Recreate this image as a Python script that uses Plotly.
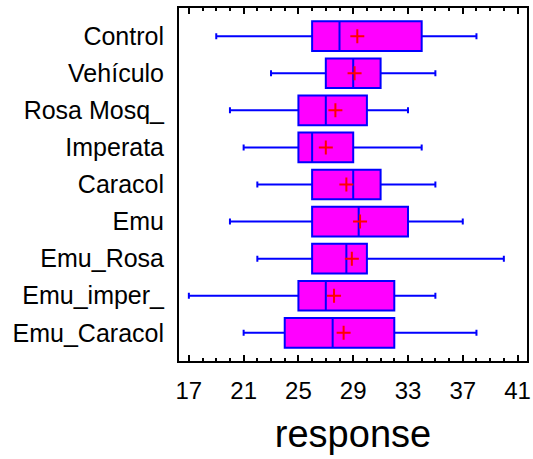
import plotly.graph_objects as go

categories = ["Control", "Vehículo", "Rosa Mosq_", "Imperata", "Caracol",
              "Emu", "Emu_Rosa", "Emu_imper_", "Emu_Caracol"]
lower_whisker = [19, 23, 20, 21, 22, 20, 22, 17, 21]
q1_values = [26, 27, 25, 25, 26, 26, 26, 25, 24]
median_values = [28, 29, 27, 26, 29, 29.4, 28.5, 27, 27.5]
q3_values = [34, 31, 30, 29, 31, 33, 30, 32, 32]
upper_whisker = [38, 35, 33, 34, 35, 37, 40, 35, 38]
mean_values = [29.3, 29.1, 27.7, 27.0, 28.5, 29.5, 28.9, 27.6, 28.3]
x_ticks = [17, 21, 25, 29, 33, 37, 41]

FONT = "Liberation Sans, Arial, sans-serif"
X_RANGE = [16.28, 41.69]

fig = go.Figure()
fig.add_trace(go.Box(
    y=categories,
    q1=q1_values, median=median_values, q3=q3_values,
    lowerfence=lower_whisker, upperfence=upper_whisker,
    orientation="h",
    fillcolor="#FF00FF",
    line=dict(color="#0000FF", width=2),
    width=0.8,
    whiskerwidth=0.2,
    boxpoints=False,
    hoverinfo="skip",
    showlegend=False,
))
fig.add_trace(go.Scatter(
    x=mean_values, y=categories, mode="markers",
    marker=dict(symbol="cross-thin", size=10, line=dict(color="#FF0000", width=2)),
    showlegend=False, hoverinfo="skip",
))
# invisible trace on the top axis so its ticks render
fig.add_trace(go.Scatter(
    x=[X_RANGE[0]], y=[categories[0]], xaxis="x2", mode="markers",
    marker=dict(opacity=0), showlegend=False, hoverinfo="skip",
))

n = len(categories)
tick_common = dict(
    range=X_RANGE,
    tickvals=x_ticks,
    ticks="inside", ticklen=6, tickwidth=2, tickcolor="black",
    minor=dict(dtick=1, tick0=17, ticks="inside", ticklen=3, tickwidth=1.5, tickcolor="black"),
    showgrid=False, zeroline=False,
)
fig.update_layout(
    width=533, height=459,
    margin=dict(l=179, r=2, t=8, b=98),
    paper_bgcolor="white", plot_bgcolor="white",
    font=dict(family=FONT, color="black"),
    xaxis=dict(
        **tick_common,
        showline=True, linecolor="black", linewidth=2, mirror=True,
        tickfont=dict(size=24, family=FONT),
        ticklabelstandoff=7,
        title=dict(text="response", font=dict(size=38, family=FONT), standoff=18),
    ),
    xaxis2=dict(
        **tick_common,
        overlaying="x", side="top", showticklabels=False, showline=False,
    ),
    yaxis=dict(
        categoryorder="array", categoryarray=categories,
        range=[n - 1 + 0.76, -0.76],
        showline=True, linecolor="black", linewidth=2, mirror=True,
        ticks="", showgrid=False, zeroline=False,
        tickfont=dict(size=25, family=FONT),
        ticklabelstandoff=8,
    ),
)

fig.write_html("out.html")
